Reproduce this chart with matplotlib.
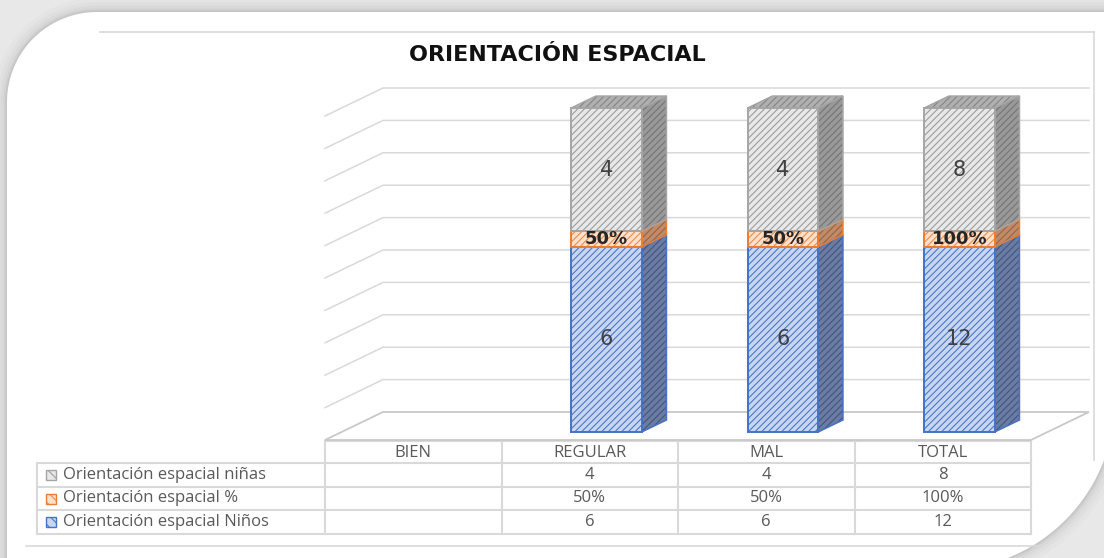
import numpy as np
import matplotlib
matplotlib.use("Agg")
import matplotlib.pyplot as plt
from matplotlib.patches import Polygon, Rectangle
from matplotlib.ticker import MultipleLocator
import matplotlib.transforms as mtransforms

# ---------------- data ----------------
title = "ORIENTACIÓN ESPACIAL"
categories = ["BIEN", "REGULAR", "MAL", "TOTAL"]
ninos = [np.nan, 6, 6, 12]            # Orientación espacial Niños
porcentaje = [np.nan, 0.50, 0.50, 1.00]  # Orientación espacial %
ninas = [np.nan, 4, 4, 8]             # Orientación espacial niñas
series_labels = ["Orientación espacial Niños", "Orientación espacial %",
                 "Orientación espacial niñas"]

# ---------------- style ----------------
plt.rcParams['hatch.linewidth'] = 0.8
face = ['#c8d6f0', '#fbe0cc', '#e8e8e8']
hatchc = ['#4a78cc', '#f08c45', '#9c9c9c']
edgec = ['#4472c4', '#ed7d31', '#a5a5a5']
side_face = ['#6a7ca4', '#c08b68', '#999999']
side_hatch = ['#44567e', '#9a6442', '#757575']
top_face, top_hatch = '#b0b0b0', '#858585'
txt_gray = '#595959'
line_gray = '#d9d9d9'

W, H = 1104, 558
fig = plt.figure(figsize=(W / 100, H / 100), dpi=100, facecolor='#e8e8e8')

# background / frame axes in pixel coordinates
bg = fig.add_axes([0, 0, 1, 1], zorder=0)
bg.set_xlim(0, W)
bg.set_ylim(H, 0)
bg.axis('off')

t1 = np.linspace(np.pi, 1.5 * np.pi, 40)
tl = np.column_stack([97 + 90 * np.cos(t1), 102 + 90 * np.sin(t1)])
t2 = np.linspace(0, 0.5 * np.pi, 60)
br = np.column_stack([945 + 170 * np.cos(t2), 400 + 170 * np.sin(t2)])
frame = np.vstack([[[7, 700]], tl, [[1115, 12]], br, [[7, 570]]])
for lw, a in [(20, 0.035), (14, 0.045), (9, 0.06), (5, 0.08), (2.5, 0.12)]:
    bg.add_patch(Polygon(frame, closed=True, fill=False, edgecolor='#7a7a7a',
                         lw=lw, alpha=a, joinstyle='round'))
bg.add_patch(Polygon(frame, closed=True, facecolor='white', edgecolor='none'))

# chart border
bg.plot([100, 1094], [32, 32], color=line_gray, lw=1.2)
bg.plot([1094, 1094], [32, 460], color=line_gray, lw=1.2)
bg.plot([26, 1040], [546, 546], color=line_gray, lw=1.2)

bg.text(557, 55, title, ha='center', va='center', fontsize=16,
        fontweight='bold', family='DejaVu Sans', color='#111111')

# ---------------- main 3D-like plot axes ----------------
n = len(categories)
x0, x1 = 325, 1031      # front plane left/right (pixels)
yb, yt = 440, 116       # front plane 0 % / 100 % (pixels)
ax = fig.add_axes([x0 / W, 1 - yb / H, (x1 - x0) / W, (yb - yt) / H], zorder=2)
ax.set_xlim(-0.5, n - 0.5)
ax.set_ylim(0, 1)
ax.patch.set_alpha(0)
ax.axis('off')
ax.yaxis.set_major_locator(MultipleLocator(0.1))

u = ax.transData.transform([[1, 1]]) - ax.transData.transform([[0, 0]])
ux, uy = u[0][0], u[0][1]
SLOPE = 2.07
DEPTH = 28
D_FRONT, D_BACK = 8, 20


def proj(x, v, d):
    return (x + SLOPE * d / ux, v + d / uy)


# walls: gridlines on back wall and left side wall
levels = ax.yaxis.get_major_locator().tick_values(0, 1)
for v in levels:
    if 0 < v <= 1.0001:
        c = proj(-0.5, v, 0)
        a = proj(-0.5, v, DEPTH)
        b = proj(n - 0.5, v, DEPTH)
        ax.plot([c[0], a[0], b[0]], [c[1], a[1], b[1]], color=line_gray,
                lw=1.1, clip_on=False, zorder=1)
floor = [proj(-0.5, 0, 0), proj(n - 0.5, 0, 0), proj(n - 0.5, 0, DEPTH),
         proj(-0.5, 0, DEPTH)]
ax.add_patch(Polygon(floor, closed=True, facecolor='white', edgecolor='#c8c8c8',
                     lw=1.3, clip_on=False, zorder=1))

# ---------------- stacked 100 % columns ----------------
stack = np.array([ninos, porcentaje, ninas], dtype=float)
totals = np.nansum(stack, axis=0)
valid = totals > 0
frac = np.zeros_like(stack)
frac[:, valid] = stack[:, valid] / totals[valid]
bw = 0.40
idx = np.arange(n)[valid]
bottoms = np.zeros(n)
for s in range(3):
    h = frac[s, valid]
    b = bottoms[valid]
    xc = np.array([proj(i, 0, D_FRONT)[0] for i in idx])
    yb0 = np.array([proj(0, bb, D_FRONT)[1] for bb in b])
    ax.bar(xc, h, width=bw, bottom=yb0, color=face[s], edgecolor=hatchc[s],
           hatch='/////', linewidth=0, zorder=5, clip_on=False)
    ax.bar(xc, h, width=bw, bottom=yb0, fill=False, edgecolor=edgec[s],
           linewidth=1.4, zorder=6, clip_on=False)
    for k, i in enumerate(idx):
        xr = i + bw / 2
        side = [proj(xr, b[k], D_FRONT), proj(xr, b[k] + h[k], D_FRONT),
                proj(xr, b[k] + h[k], D_BACK), proj(xr, b[k], D_BACK)]
        ax.add_patch(Polygon(side, closed=True, facecolor=side_face[s],
                             edgecolor=side_hatch[s], hatch='/////', lw=0,
                             zorder=4, clip_on=False))
        ax.add_patch(Polygon(side, closed=True, fill=False, edgecolor=edgec[s],
                             lw=1.1, zorder=4.5, clip_on=False))
        if s == 2:
            xl = i - bw / 2
            top = [proj(xl, 1, D_FRONT), proj(xr, 1, D_FRONT),
                   proj(xr, 1, D_BACK), proj(xl, 1, D_BACK)]
            ax.add_patch(Polygon(top, closed=True, facecolor=top_face,
                                 edgecolor=top_hatch, hatch='/////', lw=0,
                                 zorder=4, clip_on=False))
            ax.add_patch(Polygon(top, closed=True, fill=False,
                                 edgecolor=edgec[s], lw=1.0, zorder=4.5,
                                 clip_on=False))
        lx, ly = proj(i, b[k] + h[k] / 2, D_FRONT)
        val = stack[s, i]
        if s == 1:
            ax.text(lx, ly, f"{val:.0%}", ha='center', va='center',
                    fontsize=13, fontweight='bold', color='#262626',
                    family='DejaVu Sans', zorder=8)
        else:
            ax.text(lx, ly, f"{val:g}", ha='center', va='center',
                    fontsize=15, color='#404040', family='DejaVu Sans',
                    zorder=8)
    bottoms[valid] += h

# ---------------- data table ----------------
to_px = lambda x: bg.transData.inverted().transform(ax.transData.transform([[x, 0]]))[0][0]
col_edges = [to_px(e) for e in np.arange(-0.5, n, 1.0)]
col_centers = [to_px(c) for c in range(n)]
lab_left = 37
row_y = [441, 463, 487, 510, 534]

tbl_kw = dict(color=line_gray, lw=1.5, zorder=3)
bg.plot([col_edges[0], col_edges[-1]], [row_y[0], row_y[0]], **tbl_kw)
for y in row_y[1:]:
    bg.plot([lab_left, col_edges[-1]], [y, y], **tbl_kw)
for xe in col_edges:
    bg.plot([xe, xe], [row_y[0], row_y[-1]], **tbl_kw)
bg.plot([lab_left, lab_left], [row_y[1], row_y[-1]], **tbl_kw)

font_tbl = dict(family=['Open Sans', 'DejaVu Sans'], fontsize=12, color=txt_gray)
for c, name in zip(col_centers, categories):
    bg.text(c, (row_y[0] + row_y[1]) / 2 + 1, name, ha='center', va='center', **font_tbl)

row_series = [2, 1, 0]  # niñas, %, Niños
for r, s in enumerate(row_series):
    yc = (row_y[r + 1] + row_y[r + 2]) / 2
    bg.add_patch(Rectangle((46, yc - 5), 10, 10, facecolor=face[s],
                           edgecolor=hatchc[s], hatch='\\\\\\', lw=0, zorder=4))
    bg.add_patch(Rectangle((46, yc - 5), 10, 10, fill=False,
                           edgecolor=edgec[s], lw=1.0, zorder=4))
    bg.text(63, yc, series_labels[s], ha='left', va='center', **font_tbl)
    for i in range(n):
        val = stack[s, i]
        if np.isnan(val):
            continue
        txt = f"{val:.0%}" if s == 1 else f"{val:g}"
        bg.text(col_centers[i], yc, txt, ha='center', va='center', **font_tbl)

fig.savefig("out.png", dpi=100, facecolor=fig.get_facecolor())
